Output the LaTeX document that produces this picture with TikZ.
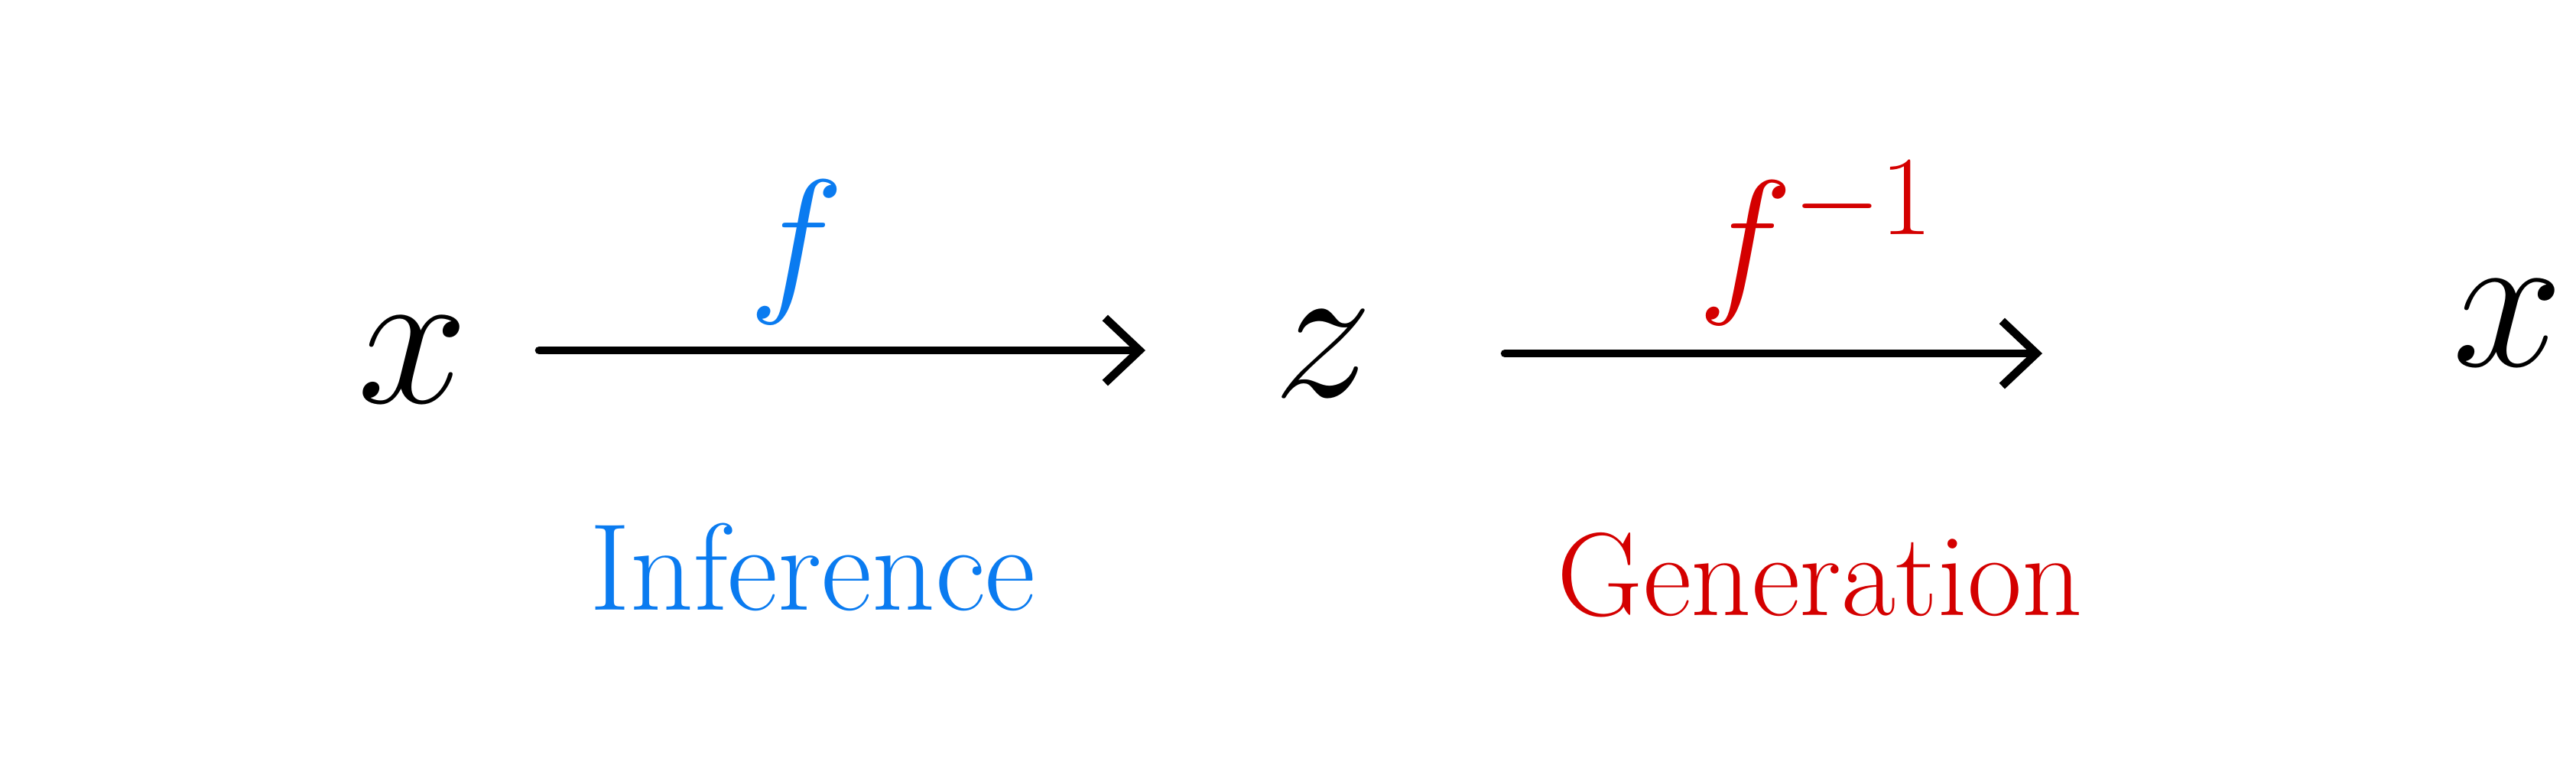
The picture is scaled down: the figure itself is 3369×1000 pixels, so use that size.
\RequirePackage{fix-cm}
\documentclass[tikz,border=0pt]{standalone}
\usetikzlibrary{arrows.meta}
\definecolor{hblue}{HTML}{0A7BF0}
\definecolor{hred}{HTML}{D40000}
\begin{document}
\begin{tikzpicture}[x=0.01cm,y=-0.01cm,
  arr/.style={line width=3pt,line cap=round,-{Straight Barb[length=0.45cm,width=0.85cm,line width=3pt]}},
  var/.style={font=\fontsize{74}{84}\selectfont},
  fun/.style={font=\fontsize{60}{70}\selectfont},
  word/.style={font=\fontsize{46}{54}\selectfont}]
\path[use as bounding box,fill=white] (0,0) rectangle (3369,1000);
\node[var] (xl) at (540,470) {$x$};
\node[var] (z) at (1730,462) {$z$};
\node[var] (xr) at (3280,422) {$x$};
\coordinate (a1s) at (705,458);
\coordinate (a1e) at (1498,458);
\coordinate (a2s) at (1968,462);
\coordinate (a2e) at (2671,462);
\draw[arr] (a1s) -- (a1e);
\draw[arr] (a2s) -- (a2e);
\node[fun,text=hblue] (f) at (1042,330) {$f$};
\node[fun,text=hred] (finv) at (2375,318) {$f^{-1}$};
\node[word,text=hblue] (inf) at (1063,741) {Inference};
\node[word,text=hred] (gen) at (2380,752) {\fontsize{44}{52}\selectfont Generation};
\end{tikzpicture}
\end{document}
